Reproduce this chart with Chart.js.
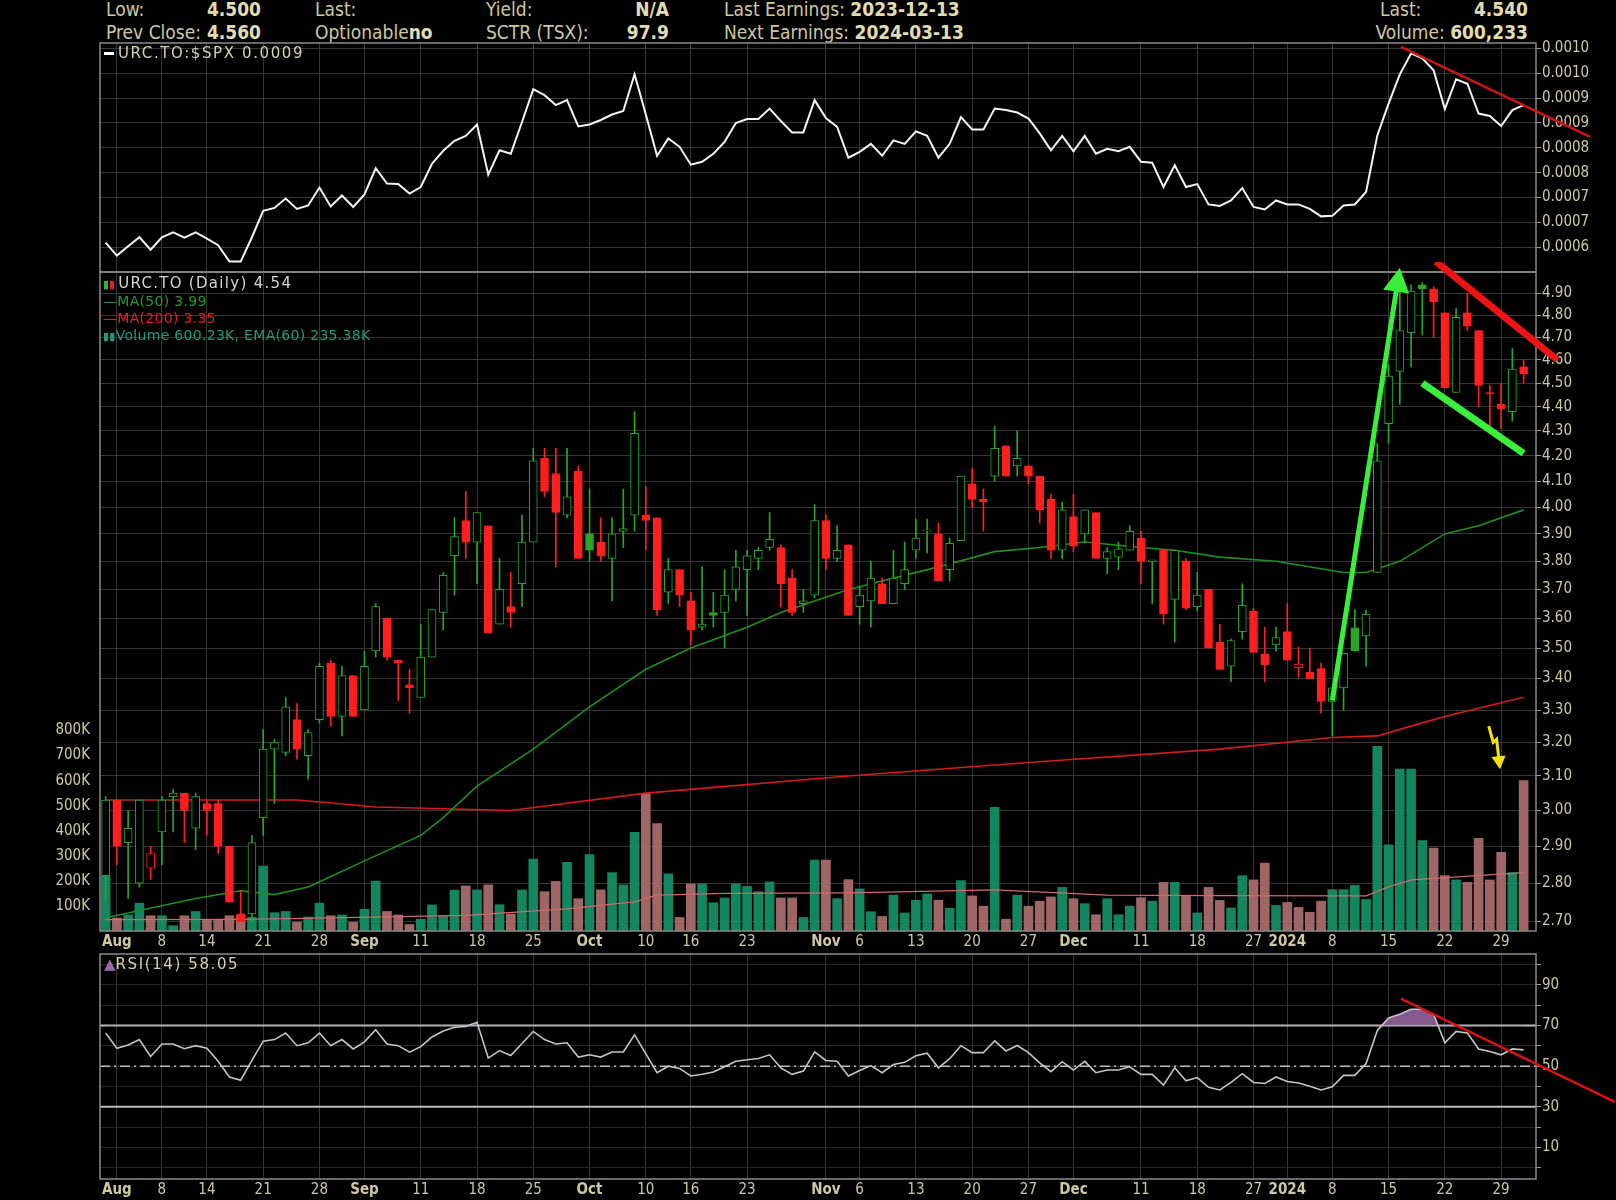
<!DOCTYPE html>
<html>
<head>
<meta charset="utf-8">
<script src="https://cdn.jsdelivr.net/npm/chart.js@4.4.1/dist/chart.umd.min.js"></script>
<style>
  html, body { margin: 0; padding: 0; background: #000; width: 1616px; height: 1200px; overflow: hidden; }
  canvas { position: absolute; left: 0; }
  .t { position: absolute; white-space: nowrap; font-family: 'Liberation Sans Narrow', 'DejaVu Sans Condensed', 'Liberation Sans', sans-serif; font-size: 19px; color: #cdc8a0; line-height: 20px; }
  .t b { color: #e2dcb2; }
  .r { text-align: right; }
  .lg { position: absolute; white-space: nowrap; font-family: 'DejaVu Sans', sans-serif; font-size: 14px; line-height: 17px; }
</style>
</head>
<body>
<!-- header -->
<div class="t" style="left:106px;top:-1px">Low:</div>
<div class="t r" style="left:160px;width:101px;top:-1px"><b>4.500</b></div>
<div class="t" style="left:106px;top:22px">Prev Close:</div>
<div class="t r" style="left:160px;width:101px;top:22px"><b>4.560</b></div>
<div class="t" style="left:315px;top:-1px">Last:</div>
<div class="t" style="left:315px;top:22px">Optionable<b>no</b></div>
<div class="t" style="left:486px;top:-1px">Yield:</div>
<div class="t r" style="left:580px;width:89px;top:-1px"><b>N/A</b></div>
<div class="t" style="left:486px;top:22px">SCTR (TSX):</div>
<div class="t r" style="left:580px;width:89px;top:22px"><b>97.9</b></div>
<div class="t" style="left:724px;top:-1px">Last Earnings: <b>2023-12-13</b></div>
<div class="t" style="left:724px;top:22px">Next Earnings: <b>2024-03-13</b></div>
<div class="t" style="left:1380px;top:-1px">Last:</div>
<div class="t r" style="left:1440px;width:88px;top:-1px"><b>4.540</b></div>
<div class="t r" style="left:1300px;width:228px;top:22px">Volume: <b>600,233</b></div>

<canvas id="cRatio" width="1616" height="290" style="top:0"></canvas>
<canvas id="cMain" width="1616" height="700" style="top:262px"></canvas>
<canvas id="cRsi" width="1616" height="260" style="top:940px"></canvas>

<!-- legends -->
<div class="lg" style="left:104px;top:45px;font-size:15px;letter-spacing:1.6px;color:#d6d1a6"><span style="display:inline-block;width:10px;height:3px;background:#fff;vertical-align:middle;margin-right:4px"></span>URC.TO:$SPX 0.0009</div>
<div class="lg" style="left:103px;top:275px;font-size:15px;letter-spacing:1.3px;color:#d4d4d4"><span style="color:#2fb52f;font-size:11px;letter-spacing:0">▮</span><span style="color:#e02020;font-size:11px;letter-spacing:0;margin-right:3px">▮</span>URC.TO (Daily) 4.54</div>
<div class="lg" style="left:103px;top:293px;color:#2a9a2a;letter-spacing:0.3px">&#8212;MA(50) 3.99</div>
<div class="lg" style="left:103px;top:310px;color:#e02020;letter-spacing:0.3px">&#8212;MA(200) 3.35</div>
<div class="lg" style="left:103px;top:327px;color:#1f9a7c;letter-spacing:0.3px"><span style="font-size:11px">▮▮</span>Volume 600.23K, EMA(60) 235.38K</div>
<div class="lg" style="left:104px;top:956px;font-size:15px;letter-spacing:1.6px;color:#d6d1a6"><span style="color:#9a6aa8;letter-spacing:0">&#9650;</span>RSI(14) 58.05</div>

<script>
// TRADING DAYS (TSX)
const dates = [
  '2023-07-31',
  '2023-08-01','2023-08-02','2023-08-03','2023-08-04','2023-08-08','2023-08-09','2023-08-10','2023-08-11',
  '2023-08-14','2023-08-15','2023-08-16','2023-08-17','2023-08-18','2023-08-21','2023-08-22','2023-08-23',
  '2023-08-24','2023-08-25','2023-08-28','2023-08-29','2023-08-30','2023-08-31',
  '2023-09-01','2023-09-05','2023-09-06','2023-09-07','2023-09-08','2023-09-11','2023-09-12','2023-09-13',
  '2023-09-14','2023-09-15','2023-09-18','2023-09-19','2023-09-20','2023-09-21','2023-09-22','2023-09-25',
  '2023-09-26','2023-09-27','2023-09-28','2023-09-29',
  '2023-10-02','2023-10-03','2023-10-04','2023-10-05','2023-10-06','2023-10-10','2023-10-11','2023-10-12',
  '2023-10-13','2023-10-16','2023-10-17','2023-10-18','2023-10-19','2023-10-20','2023-10-23','2023-10-24',
  '2023-10-25','2023-10-26','2023-10-27','2023-10-30','2023-10-31',
  '2023-11-01','2023-11-02','2023-11-03','2023-11-06','2023-11-07','2023-11-08','2023-11-09','2023-11-10',
  '2023-11-13','2023-11-14','2023-11-15','2023-11-16','2023-11-17','2023-11-20','2023-11-21','2023-11-22',
  '2023-11-23','2023-11-24','2023-11-27','2023-11-28','2023-11-29','2023-11-30',
  '2023-12-01','2023-12-04','2023-12-05','2023-12-06','2023-12-07','2023-12-08','2023-12-11','2023-12-12',
  '2023-12-13','2023-12-14','2023-12-15','2023-12-18','2023-12-19','2023-12-20','2023-12-21','2023-12-22',
  '2023-12-27','2023-12-28','2023-12-29',
  '2024-01-02','2024-01-03','2024-01-04','2024-01-05','2024-01-08','2024-01-09','2024-01-10','2024-01-11',
  '2024-01-12','2024-01-15','2024-01-16','2024-01-17','2024-01-18','2024-01-19','2024-01-22','2024-01-23',
  '2024-01-24','2024-01-25','2024-01-26','2024-01-29','2024-01-30','2024-01-31'
];

const tickDates = ['2023-08-01','2023-08-08','2023-08-14','2023-08-21','2023-08-28','2023-09-01','2023-09-11',
  '2023-09-18','2023-09-25','2023-10-02','2023-10-10','2023-10-16','2023-10-23','2023-11-01','2023-11-06',
  '2023-11-13','2023-11-20','2023-11-27','2023-12-01','2023-12-11','2023-12-18','2023-12-27','2024-01-02',
  '2024-01-08','2024-01-15','2024-01-22','2024-01-29'];
const tickText = ['Aug','8','14','21','28','Sep','11','18','25','Oct','10','16','23','Nov','6','13','20','27',
  'Dec','11','18','27','2024','8','15','22','29'];

// PRICES
const opens = [
  2.82,3.03,2.91,2.80,2.84,2.94,3.04,3.05,2.95,3.02,
  3.02,2.90,2.72,2.72,2.98,3.18,3.17,3.27,3.16,3.27,
  3.45,3.28,3.41,3.30,3.49,3.60,3.46,3.38,3.34,3.47,
  3.62,3.82,3.95,3.87,3.93,3.58,3.64,3.72,3.87,4.19,
  4.13,3.97,4.14,3.90,3.87,3.81,3.91,3.97,3.97,3.96,
  3.69,3.77,3.66,3.57,3.62,3.62,3.70,3.77,3.81,3.85,
  3.85,3.74,3.65,3.68,3.95,3.81,3.86,3.64,3.66,3.72,
  3.65,3.72,3.84,3.91,3.90,3.77,3.875,4.09,4.03,4.12,
  4.24,4.16,4.16,4.12,4.03,3.84,3.965,3.90,3.98,3.81,
  3.815,3.84,3.885,3.80,3.84,3.665,3.80,3.64,3.70,3.52,
  3.44,3.555,3.625,3.48,3.51,3.555,3.435,3.42,3.432,3.327,
  3.37,3.568,3.54,3.76,4.33,4.55,4.72,4.94,4.92,4.81,
  4.46,4.81,4.73,4.46,4.41,4.38,4.57
];
const highs = [
  3.04,3.03,3.00,3.03,2.90,3.04,3.06,3.05,3.05,3.03,
  3.03,2.90,2.78,2.93,3.24,3.21,3.34,3.32,3.24,3.45,
  3.46,3.44,3.41,3.49,3.65,3.60,3.46,3.43,3.58,3.63,
  3.76,3.96,4.06,3.98,3.93,3.81,3.76,3.97,4.23,4.23,
  4.23,4.23,4.16,4.07,3.96,3.96,4.07,4.38,4.08,3.96,
  3.81,3.77,3.69,3.78,3.69,3.77,3.84,3.84,3.85,3.98,
  3.86,3.77,3.70,4.01,3.97,3.93,3.86,3.71,3.80,3.74,
  3.84,3.87,3.955,3.955,3.94,3.885,4.12,4.15,4.07,4.32,
  4.24,4.30,4.16,4.12,4.05,4.02,4.05,3.99,3.98,3.85,
  3.87,3.93,3.91,3.80,3.84,3.84,3.81,3.76,3.70,3.58,
  3.53,3.72,3.635,3.57,3.57,3.65,3.503,3.50,3.45,3.37,
  3.482,3.63,3.628,4.25,4.58,4.91,4.94,4.95,4.93,4.81,
  4.83,4.90,4.73,4.49,4.50,4.65,4.60
];
const lows = [
  2.75,2.85,2.76,2.79,2.81,2.85,2.94,2.91,2.89,2.93,
  2.88,2.75,2.70,2.70,2.93,3.02,3.16,3.15,3.09,3.26,
  3.25,3.22,3.28,3.30,3.47,3.46,3.33,3.29,3.34,3.47,
  3.56,3.68,3.81,3.72,3.55,3.58,3.57,3.64,3.87,4.04,
  3.78,3.96,3.81,3.80,3.80,3.66,3.85,3.91,3.84,3.61,
  3.65,3.64,3.51,3.56,3.57,3.50,3.66,3.61,3.77,3.84,
  3.64,3.61,3.62,3.67,3.77,3.80,3.61,3.58,3.57,3.65,
  3.65,3.70,3.81,3.83,3.73,3.73,3.875,4.00,3.91,4.10,
  4.12,4.12,4.09,3.94,3.81,3.81,3.835,3.87,3.81,3.755,
  3.77,3.84,3.72,3.65,3.58,3.52,3.63,3.625,3.50,3.43,
  3.39,3.53,3.485,3.39,3.49,3.46,3.404,3.40,3.29,3.22,
  3.30,3.49,3.44,3.76,4.25,4.41,4.57,4.71,4.70,4.48,
  4.46,4.73,4.40,4.31,4.31,4.34,4.50
];
const closes = [
  3.03,2.90,2.95,3.03,2.88,3.03,3.05,3.00,3.04,3.00,
  2.90,2.75,2.70,2.91,3.18,3.20,3.31,3.18,3.23,3.44,
  3.28,3.41,3.28,3.44,3.64,3.47,3.45,3.37,3.47,3.63,
  3.75,3.89,3.87,3.98,3.55,3.70,3.62,3.87,4.18,4.06,
  3.98,4.04,3.81,3.84,3.82,3.90,3.92,4.29,3.95,3.63,
  3.77,3.68,3.56,3.58,3.61,3.68,3.78,3.82,3.84,3.88,
  3.72,3.62,3.66,3.95,3.81,3.84,3.61,3.68,3.74,3.65,
  3.74,3.77,3.885,3.915,3.73,3.865,4.12,4.03,4.02,4.23,
  4.12,4.19,4.12,3.99,3.84,3.99,3.855,3.99,3.81,3.835,
  3.845,3.91,3.80,3.805,3.615,3.84,3.635,3.68,3.50,3.43,
  3.525,3.645,3.485,3.445,3.535,3.46,3.447,3.40,3.327,3.37,
  3.482,3.49,3.614,4.18,4.53,4.73,4.91,4.92,4.86,4.48,
  4.79,4.75,4.49,4.455,4.39,4.56,4.54
];
// VOLUME (thousands)
const volumesK = [
  220,52,64,111,61,61,21,61,78,44,
  44,61,61,55,259,73,78,35,56,111,
  61,64,35,87,199,78,64,26,47,104,
  61,163,180,164,184,105,68,164,287,157,
  198,274,129,305,164,233,184,394,549,429,
  228,54,188,188,113,132,188,178,157,196,
  132,132,54,283,283,129,205,168,77,58,
  143,72,123,148,123,91,201,140,99,494,
  47,143,99,119,136,174,129,109,65,129,
  65,99,133,119,194,194,140,72,174,122,
  92,221,204,271,102,114,94,75,119,165,
  165,182,126,737,344,646,646,361,331,221,
  204,194,370,204,314,233,600
];
// MOVING AVERAGES: [day index, value]
const ma50 = [[0,2.71],[8,2.76],[12,2.78],[15,2.77],[18,2.79],[23,2.86],[28,2.93],[30,2.98],[33,3.07],
  [38,3.18],[43,3.31],[48,3.43],[52,3.50],[57,3.57],[60,3.62],[66,3.70],[74,3.78],[79,3.835],[83,3.85],
  [87,3.87],[92,3.85],[95,3.84],[99,3.815],[104,3.80],[110,3.76],[112,3.76],[115,3.80],[119,3.90],
  [122,3.93],[126,3.99]];
const ma200 = [[0,3.03],[17,3.03],[24,3.01],[36,3.00],[48,3.05],[66,3.10],[82,3.14],[99,3.18],
  [109,3.215],[113,3.22],[116,3.25],[119,3.28],[126,3.34]];
const volEmaK = [[0,45],[12,46],[20,52],[32,62],[41,88],[47,116],[49,143],[55,150],[66,152],[79,164],
  [89,143],[99,141],[112,140],[114,176],[116,204],[126,233]];

// URC.TO:$SPX
const ratio = [
  0.000609,0.000583,0.000602,0.000620,0.000595,0.000620,0.000630,0.000619,0.000630,0.000617,
  0.000604,0.000571,0.000571,0.000620,0.000673,0.000679,0.000698,0.000677,0.000684,0.000720,
  0.000682,0.000704,0.000681,0.000706,0.000759,0.000728,0.000727,0.000708,0.000721,0.000768,
  0.000794,0.000814,0.000824,0.000847,0.000746,0.000795,0.000788,0.000852,0.000918,0.000906,
  0.000886,0.000896,0.000843,0.000847,0.000856,0.000867,0.000874,0.000948,0.000867,0.000784,
  0.000819,0.000802,0.000766,0.000772,0.000788,0.000812,0.000850,0.000858,0.000858,0.000879,
  0.000854,0.000831,0.000831,0.000896,0.000860,0.000842,0.000780,0.000792,0.000808,0.000784,
  0.000815,0.000808,0.000833,0.000824,0.000780,0.000808,0.000862,0.000837,0.000837,0.000879,
  0.000876,0.000871,0.000859,0.000829,0.000795,0.000824,0.000793,0.000824,0.000788,0.000798,
  0.000793,0.000802,0.000772,0.000770,0.000721,0.000765,0.000721,0.000727,0.000686,0.000683,
  0.000694,0.000719,0.000681,0.000676,0.000694,0.000686,0.000686,0.000677,0.000662,0.000663,
  0.000684,0.000686,0.000711,0.000825,0.000889,0.000948,0.000990,0.000980,0.000956,0.000878,
  0.000938,0.000929,0.000869,0.000864,0.000844,0.000876,0.000886
];
// RSI(14)
const rsi = [
  66.3,58.8,60.4,63.1,54.8,60.9,60.9,58.6,60.1,58.8,
  52.4,44.7,43.1,52.9,62.3,63.1,66.3,60.1,61.5,66.3,
  60.1,63.1,58.5,62.0,67.9,60.9,60.1,56.9,59.6,64.4,
  67.3,69.2,69.5,71.6,54.0,57.7,55.3,61.2,67.1,63.1,
  60.9,61.5,54.5,55.6,54.5,57.0,57.0,65.5,56.1,46.8,
  50.0,48.9,45.2,46.0,47.1,49.7,52.4,53.2,53.8,55.6,
  49.2,46.0,47.6,57.0,52.8,52.4,45.2,47.9,50.3,46.8,
  50.8,51.9,55.1,56.4,49.2,53.7,60.1,56.7,56.7,62.5,
  57.5,60.2,56.7,51.6,47.3,52.2,48.1,52.4,46.8,48.1,
  48.1,49.7,46.0,46.0,40.7,49.2,42.8,44.4,39.6,38.3,
  42.0,46.3,42.0,41.5,44.7,42.5,41.7,40.1,38.3,39.9,
  45.5,45.5,51.3,67.6,73.7,75.6,78.0,78.0,75.6,61.5,
  67.1,66.3,58.5,57.2,55.6,58.5,58.05
];

// AXIS TICKS
const priceTicks = [2.7,2.8,2.9,3.0,3.1,3.2,3.3,3.4,3.5,3.6,3.7,3.8,3.9,4.0,4.1,4.2,4.3,4.4,4.5,4.6,4.7,4.8,4.9];
const volTicksK = [100,200,300,400,500,600,700,800];
const ratioTicks = [0.0006,0.00065,0.0007,0.00075,0.0008,0.00085,0.0009,0.00095,0.001];
const ratioTickText = ['0.0006','0.0007','0.0007','0.0008','0.0008','0.0009','0.0009','0.0010','0.0010'];
const rsiGrid = [0,10,20,30,40,50,60,70,80,90,100];
const rsiTickText = ['','10','','30','','50','','70','','90',''];

// HAND-DRAWN MARKS: [day index, value]
const upArrow = [[109,3.33],[115,5.02]];
const channelTop = [[118.2,5.05],[129,4.60]];
const channelLow = [[117,4.50],[126,4.21]];
const yellowArrow = [[122.9,3.25],[123.3,3.20],[123.6,3.21],[123.9,3.12]];
const ratioTrend = [[115.1,0.001003],[131.9,0.000822]];
const rsiTrend = [[115.1,83.3],[134.1,32.4]];

const GRID = '#363636';
const FRAME = '#8a8a8a';
const TXT = '#cdc8a0';
const NARROW = "'Liberation Sans Narrow','DejaVu Sans Condensed','Liberation Sans',sans-serif";
const UP = '#2aa52a', DOWN = '#ff1f1f';
const SLOTS = dates.length + 0.6;   // sessions plus the blank room at the right edge

const tickIdx = tickDates.map(d => dates.indexOf(d));
const isUp = closes.map((c, i) => i === 0 || c >= closes[i - 1]);
const candleColor = isUp.map(u => u ? UP : DOWN);
const bodyFill = closes.map((c, i) => c >= opens[i] ? '#000' : candleColor[i]);
const volColor = isUp.map(u => u ? 'rgba(20,140,100,0.95)' : 'rgba(168,108,108,0.95)');
const pts = arr => arr.map(([i, v]) => ({ x: dates[i], y: v }));

function xScale(showLabels) {
  return {
    type: 'category',
    offset: true,
    grid: { color: GRID, offset: false, drawTicks: false },
    border: { display: false },
    afterBuildTicks: s => {
      s.ticks = tickIdx.map(v => ({ value: v }));
      s._valueRange = SLOTS;
    },
    ticks: {
      display: showLabels, autoSkip: false, maxRotation: 0, minRotation: 0, padding: 2, color: TXT,
      callback: (v, k) => tickText[k],
      font: ctx => ({ family: NARROW, size: 15, weight: /^\d{1,2}$/.test(tickText[ctx.index]) ? 'normal' : 'bold' })
    },
    afterFit: s => { s.height = showLabels ? 21 : 0; s.paddingLeft = 0; s.paddingRight = 0; }
  };
}

function rightAxis(extra) {
  return Object.assign({
    position: 'right',
    bounds: 'data',
    grid: { color: GRID, tickColor: '#9a9a9a', tickLength: 5 },
    border: { display: false },
    ticks: { color: TXT, padding: 1, font: { family: NARROW, size: 15 } },
    afterFit: s => { s.width = 80; s.paddingTop = 0; s.paddingBottom = 0; }
  }, extra);
}

const framePlugin = {
  id: 'frame',
  afterDraw(chart) {
    const a = chart.chartArea, ctx = chart.ctx;
    ctx.save();
    ctx.strokeStyle = FRAME;
    ctx.lineWidth = 1.5;
    ctx.strokeRect(a.left, a.top, a.right - a.left, a.bottom - a.top);
    ctx.restore();
  }
};

function drawLine(chart, yId, line, color, width, head) {
  const x = chart.scales.x, y = chart.scales[yId], ctx = chart.ctx;
  const p = line.map(([i, v]) => [x.getPixelForValue(i), y.getPixelForValue(v)]);
  ctx.save();
  ctx.strokeStyle = color;
  ctx.fillStyle = color;
  ctx.lineWidth = width;
  ctx.lineCap = 'butt';
  const end = p[p.length - 1];
  const prev = p[p.length - 2];
  const ang = Math.atan2(end[1] - prev[1], end[0] - prev[0]);
  ctx.beginPath();
  ctx.moveTo(p[0][0], p[0][1]);
  for (let k = 1; k < p.length - 1; k++) ctx.lineTo(p[k][0], p[k][1]);
  if (head) ctx.lineTo(end[0] - Math.cos(ang) * head * 0.8, end[1] - Math.sin(ang) * head * 0.8);
  else ctx.lineTo(end[0], end[1]);
  ctx.stroke();
  if (head) {
    const w = head * 0.55;
    ctx.beginPath();
    ctx.moveTo(end[0], end[1]);
    ctx.lineTo(end[0] - Math.cos(ang) * head + Math.cos(ang + Math.PI / 2) * w, end[1] - Math.sin(ang) * head + Math.sin(ang + Math.PI / 2) * w);
    ctx.lineTo(end[0] - Math.cos(ang) * head - Math.cos(ang + Math.PI / 2) * w, end[1] - Math.sin(ang) * head - Math.sin(ang + Math.PI / 2) * w);
    ctx.closePath();
    ctx.fill();
  }
  ctx.restore();
}

const base = {
  responsive: false,
  animation: false,
  events: [],
  plugins: { legend: { display: false }, tooltip: { enabled: false } }
};

// RATIO PANEL
new Chart(document.getElementById('cRatio'), {
  type: 'line',
  data: {
    labels: dates,
    datasets: [{ data: ratio, borderColor: '#f4f4f4', borderWidth: 2, pointRadius: 0, tension: 0 }]
  },
  options: Object.assign({}, base, {
    layout: { padding: { left: 100, top: 43, bottom: 18, right: 0 } },
    scales: {
      x: xScale(false),
      y: rightAxis({
        min: 0.00055, max: 0.001011,
        afterBuildTicks: s => { s.ticks = ratioTicks.map(v => ({ value: v })); },
        ticks: { color: TXT, padding: 1, font: { family: NARROW, size: 15 }, callback: (v, k) => ratioTickText[k] }
      })
    }
  }),
  plugins: [framePlugin, {
    id: 'ratioMarks',
    afterDraw: c => drawLine(c, 'y', ratioTrend, '#d01414', 2.5, 0)
  }]
});

// MAIN PANEL
new Chart(document.getElementById('cMain'), {
  type: 'bar',
  data: {
    labels: dates,
    datasets: [
      { label: 'body', data: opens.map((o, i) => [o, closes[i]]), backgroundColor: bodyFill, borderColor: candleColor,
        borderWidth: 1, borderSkipped: false, barThickness: 8, grouped: false, yAxisID: 'y', order: 1 },
      { label: 'wick', data: lows.map((l, i) => [l, highs[i]]), backgroundColor: candleColor,
        borderWidth: 0, barThickness: 1, grouped: false, yAxisID: 'y', order: 2 },
      { type: 'line', label: 'MA50', data: pts(ma50), borderColor: '#1f8f1f', borderWidth: 1.6, pointRadius: 0,
        spanGaps: true, yAxisID: 'y', order: 3 },
      { type: 'line', label: 'MA200', data: pts(ma200), borderColor: '#d41c1c', borderWidth: 1.6, pointRadius: 0,
        spanGaps: true, yAxisID: 'y', order: 3 },
      { type: 'line', label: 'EMA60', data: pts(volEmaK.map(([i, v]) => [i, v * 1000])), borderColor: '#d06a6a',
        borderWidth: 1.3, pointRadius: 0, spanGaps: true, yAxisID: 'yv', order: 4 },
      { label: 'volume', data: volumesK.map(v => v * 1000), backgroundColor: volColor, borderWidth: 0,
        barThickness: 9, grouped: false, yAxisID: 'yv', order: 5 }
    ]
  },
  options: Object.assign({}, base, {
    layout: { padding: { left: 0, top: 10, bottom: 10, right: 0 } },
    scales: {
      x: xScale(true),
      y: rightAxis({
        type: 'logarithmic', min: 2.676, max: 5.0,
        afterBuildTicks: s => { s.ticks = priceTicks.map(v => ({ value: v })); },
        ticks: { color: TXT, padding: 1, font: { family: NARROW, size: 15 }, callback: v => Number(v).toFixed(2) }
      }),
      yv: {
        type: 'linear', position: 'left', bounds: 'data', min: 0, max: 2630000,
        grid: { display: false },
        border: { display: false },
        afterBuildTicks: s => { s.ticks = volTicksK.map(v => ({ value: v * 1000 })); },
        ticks: { color: TXT, padding: 2, font: { family: NARROW, size: 15 }, callback: v => (v / 1000) + 'K' },
        afterFit: s => { s.width = 100; s.paddingTop = 0; s.paddingBottom = 0; }
      }
    }
  }),
  plugins: [framePlugin, {
    id: 'mainMarks',
    afterDraw: c => {
      drawLine(c, 'y', channelTop, '#ee1212', 7, 0);
      drawLine(c, 'y', channelLow, '#3bee3b', 7, 0);
      drawLine(c, 'y', upArrow, '#3bee3b', 5, 24);
      drawLine(c, 'y', yellowArrow, '#f2e400', 3, 13);
    }
  }]
});

// RSI PANEL
new Chart(document.getElementById('cRsi'), {
  type: 'line',
  data: {
    labels: dates,
    datasets: [{ data: rsi, borderColor: '#c4c4c4', borderWidth: 1.6, pointRadius: 0, tension: 0,
      fill: { target: { value: 70 }, above: 'rgba(140,95,150,0.95)', below: 'rgba(0,0,0,0)' } }]
  },
  options: Object.assign({}, base, {
    layout: { padding: { left: 100, top: 14, bottom: 0, right: 0 } },
    scales: {
      x: xScale(true),
      y: rightAxis({
        min: -5.5, max: 105.2,
        grid: { color: '#262626', tickColor: '#9a9a9a', tickLength: 5 },
        afterBuildTicks: s => { s.ticks = rsiGrid.map(v => ({ value: v })); },
        ticks: { color: TXT, padding: 1, font: { family: NARROW, size: 15 }, callback: (v, k) => rsiTickText[k] }
      })
    }
  }),
  plugins: [framePlugin, {
    id: 'rsiLevels',
    beforeDatasetsDraw: c => {
      const a = c.chartArea, y = c.scales.y, ctx = c.ctx;
      ctx.save();
      ctx.strokeStyle = '#bdbdbd';
      ctx.lineWidth = 2;
      [70, 30].forEach(v => {
        ctx.beginPath(); ctx.moveTo(a.left, y.getPixelForValue(v)); ctx.lineTo(a.right, y.getPixelForValue(v)); ctx.stroke();
      });
      ctx.lineWidth = 1.5;
      ctx.setLineDash([10, 4, 2, 4]);
      ctx.beginPath(); ctx.moveTo(a.left, y.getPixelForValue(50)); ctx.lineTo(a.right, y.getPixelForValue(50)); ctx.stroke();
      ctx.restore();
    },
    afterDraw: c => drawLine(c, 'y', rsiTrend, '#dd1111', 2.5, 0)
  }]
});
</script>
</body>
</html>
